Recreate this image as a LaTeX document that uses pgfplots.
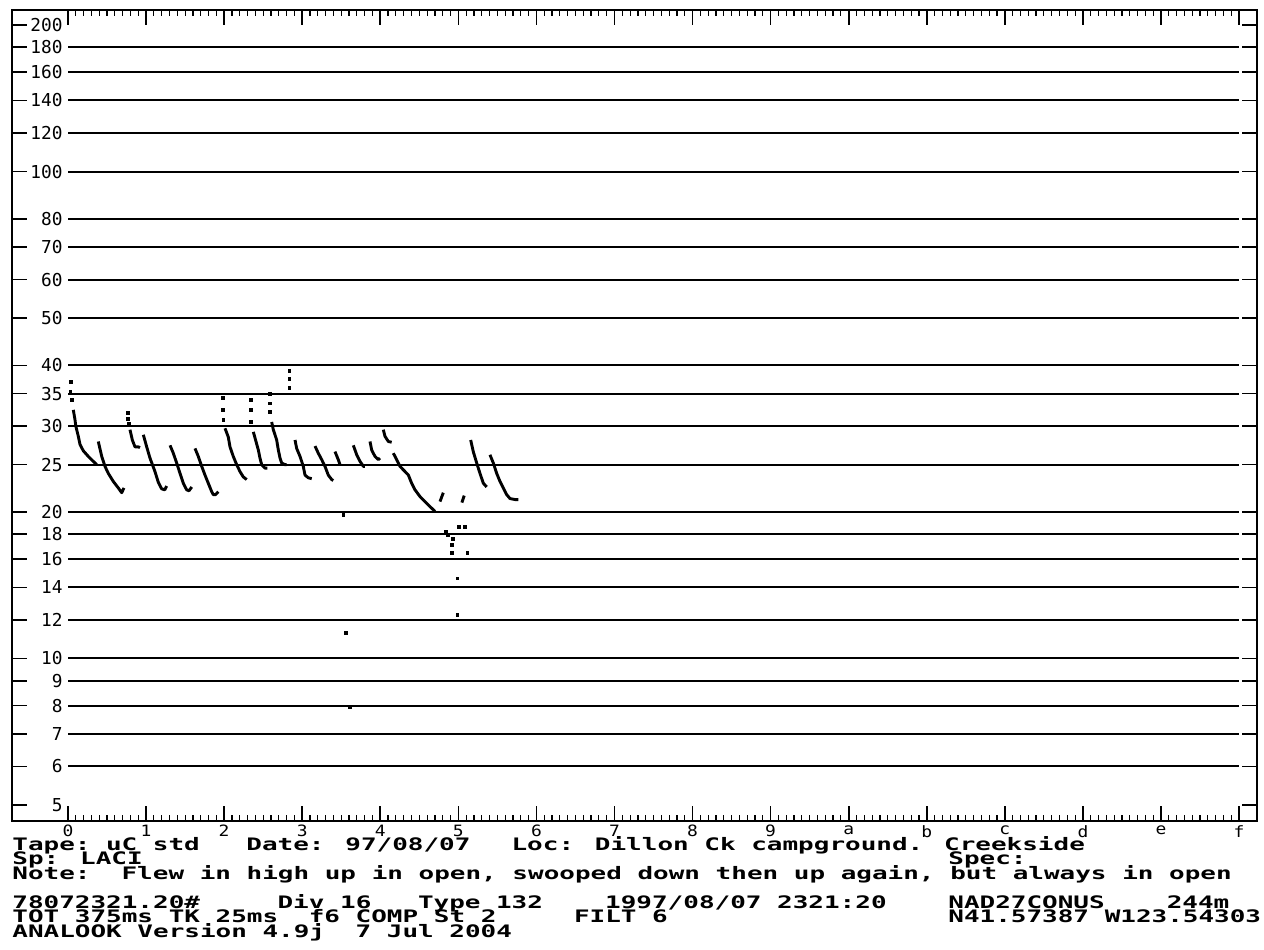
\documentclass[border=0pt]{standalone}
\usepackage{pgfplots}
\pgfplotsset{compat=1.18}
\usepackage{fontspec}
\usepackage{graphicx}
\newfontfamily\mono{DejaVu Sans Mono}
\newcommand\txt[1]{\scalebox{1.51}[1]{\mono\bfseries\fontsize{8.6}{8.6}\selectfont #1}}
\newcommand\xl[1]{\scalebox{1.15}[1]{\mono\fontsize{7.8}{7.8}\selectfont #1}}
\newcommand\yl[1]{{\mono\fontsize{8.9}{8.9}\selectfont #1}}
\pgfplotsset{
  pulse/.style={black, line width=1.45pt, mark=none, line join=round},
  dots/.style={only marks, mark=square*, mark size=0.7pt, black},
  gridl/.style={black, line width=1pt, mark=none}
}
\begin{document}
\begin{tikzpicture}
\path[use as bounding box] (0,0) rectangle (632pt,474.5pt);
\begin{axis}[
  at={(6pt,64pt)}, anchor=south west,
  scale only axis, width=622.5pt, height=405.25pt,
  xmin=-0.7173, xmax=15.230,
  ymode=log, ymin=4.636, ymax=214.2,
  axis line style={line width=1pt},
  xtick={0,...,15},
  xticklabels={\xl{0},\xl{1},\xl{2},\xl{3},\xl{4},\xl{5},\xl{6},\xl{7},\xl{8},\xl{9},\xl{a},\xl{b},\xl{c},\xl{d},\xl{e},\xl{f}},
  minor xtick={0,0.1,...,15},
  ytick={5,6,7,8,9,10,12,14,16,18,20,25,30,35,40,50,60,70,80,100,120,140,160,180,200},
  yticklabels={\yl{5},\yl{6},\yl{7},\yl{8},\yl{9},\yl{10},\yl{12},\yl{14},\yl{16},\yl{18},\yl{20},\yl{25},\yl{30},\yl{35},\yl{40},\yl{50},\yl{60},\yl{70},\yl{80},\yl{100},\yl{120},\yl{140},\yl{160},\yl{180},\yl{200}},
  yminorticks=false,
  tick align=inside,
  xtick pos=both, ytick pos=both,
  xticklabel pos=lower, yticklabel pos=left,
  major tick length=7.5pt, minor tick length=3pt,
  tick style={black, line width=0.8pt},
  minor tick style={line width=0.6pt},
  xticklabel style={anchor=north, inner sep=0pt, yshift=-2pt},
  yticklabel style={anchor=east, inner sep=0pt, xshift=25.5pt},
  clip=false,
]
\pgfplotsinvokeforeach{6,7,8,9,10,12,14,16,18,20,25,30,35,40,50,60,70,80,100,120,140,160,180}{
  \addplot[gridl] coordinates {(0,#1) (15,#1)};
}
% pulse 1
\addplot[dots] coordinates {(0.038,37.0) (0.030,35.3) (0.045,34.0)};
\addplot[pulse] coordinates {(0.068,32.4) (0.090,30.9) (0.100,30.0) (0.132,28.6) (0.154,27.5) (0.196,26.7) (0.260,26.0) (0.324,25.4) (0.368,25.0)};
% pulse 2
\addplot[pulse] coordinates {(0.388,27.9) (0.432,26.0) (0.474,24.8) (0.516,24.0) (0.580,23.1) (0.644,22.4) (0.688,21.9) (0.717,22.4)};
% pulse 3
\addplot[dots] coordinates {(0.765,31.9) (0.765,31.1) (0.781,30.4)};
\addplot[pulse] coordinates {(0.794,29.5) (0.824,28.1) (0.858,27.2) (0.900,27.2) (0.922,27.1)};
% pulse 4
\addplot[pulse] coordinates {(0.965,28.8) (1.008,27.2) (1.050,25.8) (1.114,24.2) (1.157,23.0) (1.200,22.3) (1.240,22.2) (1.264,22.6)};
% pulse 5
\addplot[pulse] coordinates {(1.307,27.4) (1.349,26.4) (1.392,25.2) (1.435,24.0) (1.477,22.9) (1.520,22.2) (1.550,22.1) (1.585,22.5)};
% pulse 6
\addplot[pulse] coordinates {(1.627,27.0) (1.669,26.0) (1.713,24.8) (1.755,23.8) (1.797,22.9) (1.841,22.0) (1.861,21.7) (1.890,21.7) (1.925,22.0)};
% pulse 7
\addplot[dots] coordinates {(1.982,34.3) (1.982,32.4) (1.990,30.9)};
\addplot[pulse] coordinates {(2.011,29.7) (2.053,28.5) (2.075,27.2) (2.117,26.0) (2.161,25.0) (2.203,24.2) (2.245,23.6) (2.289,23.3)};
% pulse 8
\addplot[dots] coordinates {(2.340,34.0) (2.340,32.4) (2.344,30.6)};
\addplot[pulse] coordinates {(2.374,29.2) (2.408,27.9) (2.438,26.8) (2.459,25.8) (2.481,25.0) (2.523,24.6) (2.553,24.6)};
% pulse 9
\addplot[dots] coordinates {(2.587,35.0) (2.587,33.4) (2.587,32.1)};
\addplot[pulse] coordinates {(2.609,30.6) (2.630,29.5) (2.673,28.1) (2.694,26.8) (2.716,25.8) (2.737,25.2) (2.780,25.0) (2.800,25.0)};
% pulse 10 (dots only)
\addplot[dots] coordinates {(2.837,39.0) (2.837,37.5) (2.837,36.0)};
% pulse 11
\addplot[pulse] coordinates {(2.908,28.1) (2.929,27.0) (2.972,26.0) (3.014,24.8) (3.036,23.8) (3.078,23.5) (3.122,23.4)};
% pulse 12
\addplot[pulse] coordinates {(3.164,27.3) (3.206,26.4) (3.250,25.6) (3.292,24.8) (3.334,23.8) (3.378,23.3) (3.398,23.2)};
% pulse 13
\addplot[pulse] coordinates {(3.420,26.6) (3.462,25.6) (3.484,25.0)};
% pulse 14
\addplot[pulse] coordinates {(3.655,27.4) (3.698,26.2) (3.740,25.4) (3.784,24.8) (3.804,24.8)};
% pulse 15
\addplot[pulse] coordinates {(3.868,27.9) (3.890,26.8) (3.932,26.0) (3.975,25.6) (3.996,25.8)};
% pulse 16
\addplot[pulse] coordinates {(4.039,29.5) (4.060,28.6) (4.103,27.9) (4.146,27.8)};
% pulse 17
\addplot[pulse] coordinates {(4.167,26.4) (4.210,25.6) (4.253,24.8) (4.317,24.2) (4.360,23.8) (4.402,22.9) (4.445,22.2) (4.509,21.5) (4.573,21.0) (4.637,20.5) (4.680,20.2) (4.701,20.05)};
\addplot[pulse] coordinates {(4.765,21.0) (4.807,21.9)};
% pulse 18
\addplot[pulse] coordinates {(5.045,20.9) (5.075,21.6)};
% pulse 19
\addplot[pulse] coordinates {(5.158,28.1) (5.191,26.6) (5.235,25.2) (5.277,24.0) (5.320,22.9) (5.363,22.5)};
% pulse 20
\addplot[pulse] coordinates {(5.405,26.2) (5.448,25.2) (5.491,24.0) (5.533,23.1) (5.576,22.4) (5.619,21.7) (5.662,21.3) (5.726,21.2) (5.768,21.2)};
% isolated points
\addplot[dots] coordinates {(3.527,19.7) (3.561,11.3) (3.612,7.94) (4.838,18.2) (4.871,17.9) (4.935,17.6) (4.914,17.1) (4.914,16.5) (5.012,18.6) (5.085,18.6) (5.115,16.5) (4.987,14.6) (4.987,12.3)};
\end{axis}
\begin{scope}[x=0.5pt, y=-0.5pt, shift={(0pt,474.5pt)}]
\newcommand\tl[3]{\node[anchor=base west, inner sep=0pt] at ({12+#1*15.6},#2) {\txt{#3}};}
\tl{0}{850}{Tape:}
\tl{6}{850}{uC std}
\tl{15}{850}{Date: 97/08/07}
\tl{32}{850}{Loc: Dillon Ck campground. Creekside}
\tl{0}{864}{Sp: LACI}
\tl{60}{864}{Spec:}
\tl{0}{879}{Note:}
\tl{7}{879}{Flew in high up in open, swooped down then up again, but always in open}
\tl{0}{908}{78072321.20\#}
\tl{17}{908}{Div 16}
\tl{26}{908}{Type}
\tl{31}{908}{132}
\tl{38}{908}{1997/08/07 2321:20}
\tl{60}{908}{NAD27CONUS}
\tl{74}{908}{244m}
\tl{0}{922}{TOT 375ms TK 25ms}
\tl{19}{922}{f6 COMP St 2}
\tl{36}{922}{FILT 6}
\tl{60}{922}{N41.57387 W123.54303}
\tl{0}{937}{ANALOOK Version 4.9j}
\tl{22}{937}{7 Jul 2004}
\end{scope}
\end{tikzpicture}
\end{document}
